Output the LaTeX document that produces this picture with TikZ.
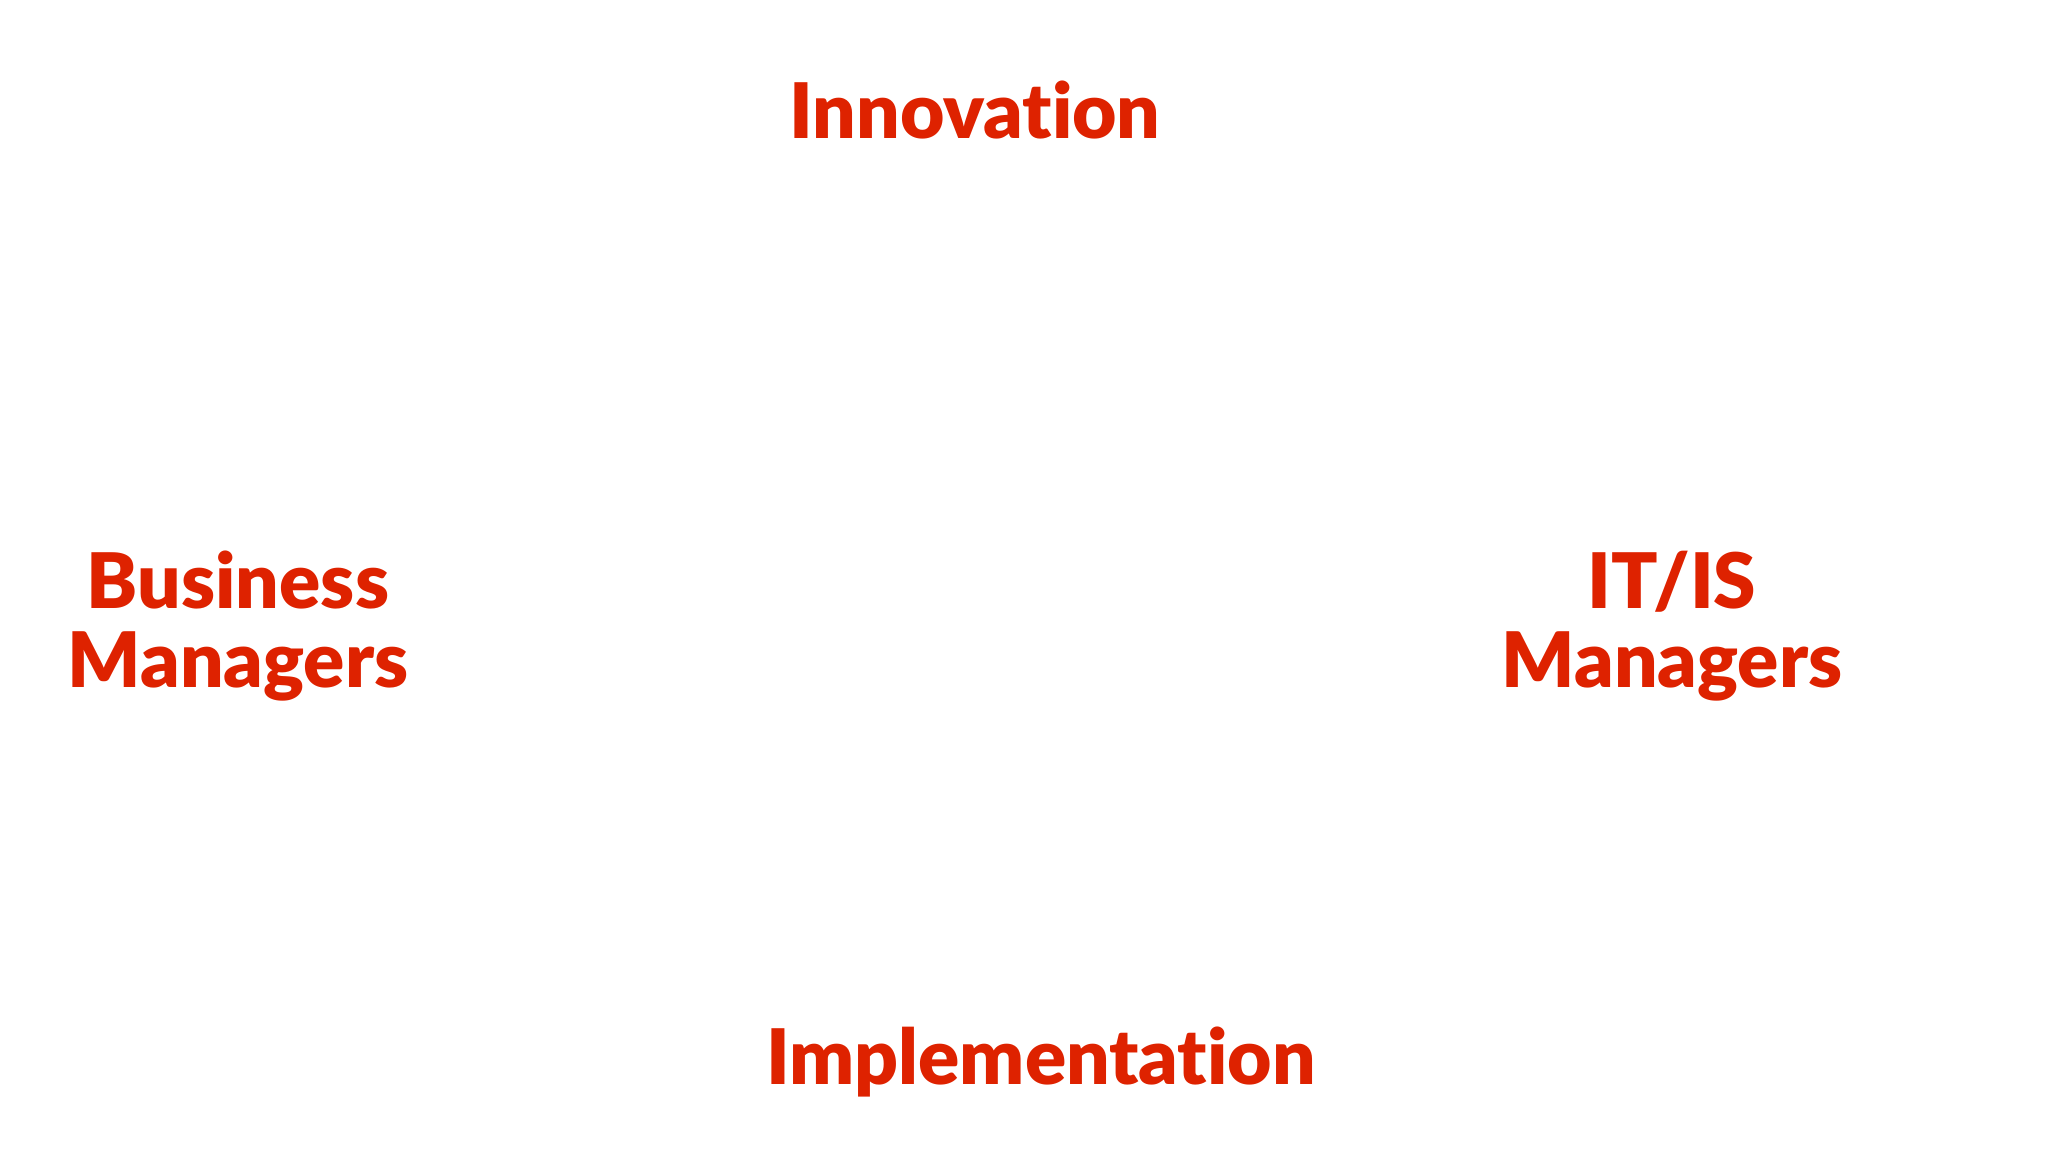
\documentclass[tikz,border=0pt]{standalone}
\usepackage{fontspec}
\setmainfont[Ligatures=NoCommon, BoldFont={Lato Black}]{Lato}
\usepackage{tikz}
\usetikzlibrary{positioning}
\definecolor{slidered}{RGB}{222,34,0}

\begin{document}
\begin{tikzpicture} [termtext/.style = {text=slidered, align=center,
                       font=\bfseries\fontsize{21.8}{22.5}\selectfont}]
        \useasboundingbox (0,0) rectangle (20.48,11.52);
        \node (innov) [termtext] at (9.75,10.42) {Innovation};
        \node (bizmgr) [termtext] at (2.38,5.26) {Business\\Managers};
        \node (itmgr) [termtext] at (16.72,5.26) {IT/IS\\Managers};
        \node (impl) [termtext] at (10.41,0.90) {Implementation};
    \end{tikzpicture}
\end{document}
